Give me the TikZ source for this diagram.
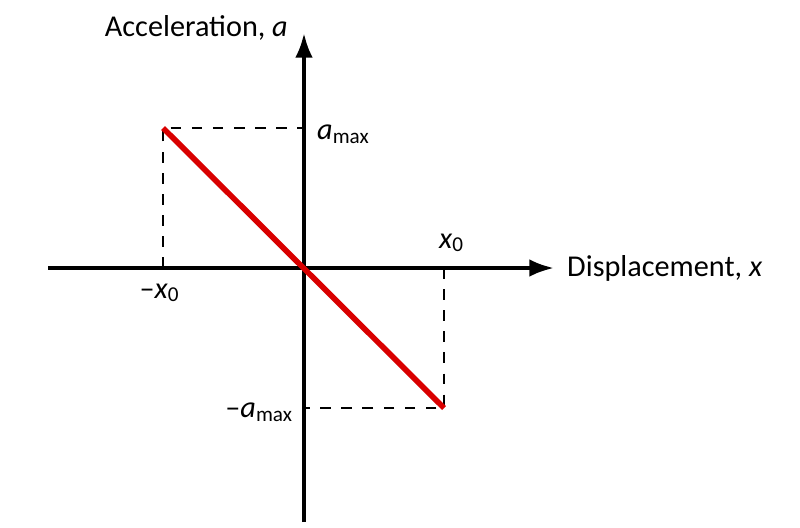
\documentclass[tikz,border=0pt]{standalone}
\usepackage{fontspec}
\setmainfont{Carlito}
\usetikzlibrary{arrows.meta}
\begin{document}
\begin{tikzpicture}[x=0.01cm,y=-0.01cm,font=\fontsize{8.6}{10}\selectfont,
  axis/.style={line width=1.1pt,-{Latex[length=7pt,width=5pt]}},
  guide/.style={dashed,line width=0.4pt},
  lbl/.style={inner sep=1pt}]
\useasboundingbox (0,0) rectangle (800,527);
\coordinate (O) at (304,268);
\coordinate (xl) at (48,268);
\coordinate (xr) at (554,268);
\coordinate (yb) at (304,522);
\coordinate (yt) at (304,33);
\coordinate (P) at (163,128);
\coordinate (Q) at (444,408);
\coordinate (Pa) at (304,128);
\coordinate (Px) at (163,268);
\coordinate (Qa) at (304,408);
\coordinate (Qx) at (444,268);
\draw[axis] (xl) -- (xr);
\draw[axis] (yb) -- (yt);
\draw[guide] (Px) -- (P) -- (Pa);
\draw[guide] (Qx) -- (Q) -- (Qa);
\draw[red!85!black,line width=1.6pt] (P) -- (Q);
\node[lbl,anchor=east] (ya) at (292,28) {Acceleration, \textit{a}};
\node[lbl,anchor=west] (xa) at (563,268) {Displacement, \textit{x}};
\node[lbl,anchor=west] (am) at (313,134) {\textit{a}\textsubscript{max}};
\node[lbl,anchor=east] (amn) at (298,412) {–\textit{a}\textsubscript{max}};
\node[lbl] (x0) at (452,243) {\textit{x}\textsubscript{0}};
\node[lbl] (mx0) at (160,293) {–\textit{x}\textsubscript{0}};
\end{tikzpicture}
\end{document}
